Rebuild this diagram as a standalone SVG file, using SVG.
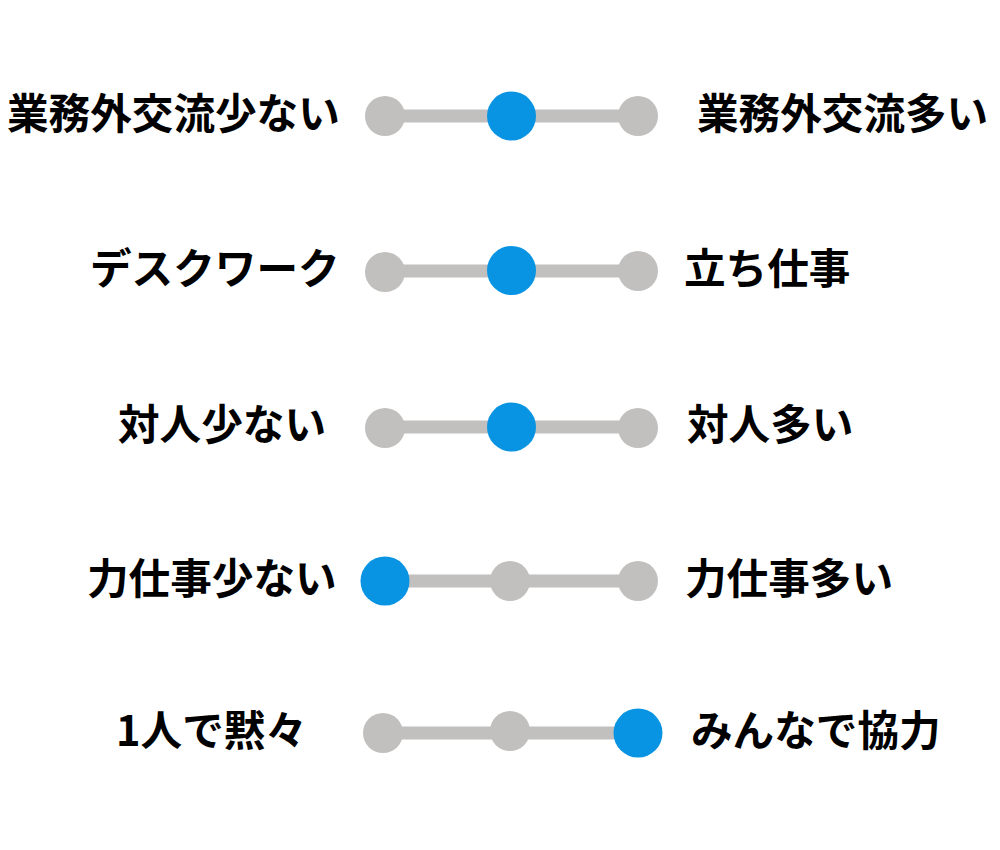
<svg xmlns="http://www.w3.org/2000/svg" width="1000" height="850" viewBox="0 0 1000 850">
<style>
.t{font-family:"Noto Sans CJK JP","Noto Sans",sans-serif;font-weight:700;font-size:41.6px;fill:#000}
.bar{stroke:#c1c0bf;stroke-width:13;fill:none}
.g{fill:#c1c0bf}
.b{fill:#0894e3}
</style>
<rect width="1000" height="850" fill="#fff"/>
<g id="connectors">
<line class="bar" x1="385" y1="116" x2="638" y2="116"/>
<line class="bar" x1="385" y1="271" x2="638" y2="271"/>
<line class="bar" x1="385" y1="427" x2="638" y2="427"/>
<line class="bar" x1="385" y1="581" x2="638" y2="581"/>
<line class="bar" x1="383" y1="733" x2="638" y2="733"/>
</g>
<g id="row1">
<text class="t" x="7" y="129">業務外交流少ない</text>
<circle class="g" cx="385" cy="116" r="20"/>
<circle class="b" cx="511.5" cy="116" r="24.5"/>
<circle class="g" cx="638" cy="116" r="20"/>
<text class="t" x="697" y="129">業務外交流多い</text>
</g>
<g id="row2">
<text class="t" x="90" y="284">デスクワーク</text>
<circle class="g" cx="385" cy="272" r="20"/>
<circle class="b" cx="511.5" cy="270.5" r="24.5"/>
<circle class="g" cx="638" cy="271" r="20"/>
<text class="t" x="684" y="284">立ち仕事</text>
</g>
<g id="row3">
<text class="t" x="118" y="440">対人少ない</text>
<circle class="g" cx="385" cy="428" r="20"/>
<circle class="b" cx="511.5" cy="427" r="24.5"/>
<circle class="g" cx="638" cy="428" r="20"/>
<text class="t" x="687" y="440">対人多い</text>
</g>
<g id="row4">
<text class="t" x="87" y="594">力仕事少ない</text>
<circle class="b" cx="385" cy="581" r="24.5"/>
<circle class="g" cx="510" cy="581" r="20"/>
<circle class="g" cx="638" cy="581" r="20"/>
<text class="t" x="685" y="594">力仕事多い</text>
</g>
<g id="row5">
<text class="t" x="116" y="746">1人で黙々</text>
<circle class="g" cx="383" cy="733" r="20"/>
<circle class="g" cx="510" cy="731" r="20"/>
<circle class="b" cx="638" cy="733" r="24.5"/>
<text class="t" x="691" y="746">みんなで協力</text>
</g>
</svg>
